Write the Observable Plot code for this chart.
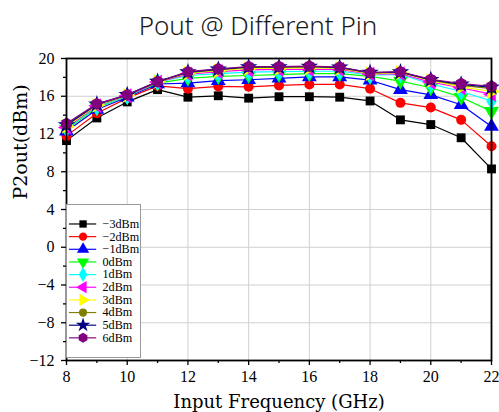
<!DOCTYPE html>
<html>
<head>
<meta charset="utf-8">
<script src="https://cdn.jsdelivr.net/npm/d3@7"></script>
<script src="https://cdn.jsdelivr.net/npm/@observablehq/plot@0.6"></script>
<style>
  body { margin: 0; background: #fff; }
  #wrap { position: relative; width: 499px; height: 412px; overflow: hidden; background: #fff; }
  #title { position: absolute; left: 0; top: 12px; width: 516px; text-align: center;
           font-family: "Noto Sans", sans-serif; font-size: 26px; line-height: 26px; color: #1a1a1a; font-weight: 300; }
  #chart { position: absolute; left: 0; top: 48px; }
  #legend { position: absolute; left: 66px; top: 204px; }
</style>
</head>
<body>
<div id="wrap">
  <div id="title">Pout @ Different Pin</div>
  <div id="chart"></div>
  <div id="legend"></div>
</div>
<script>
const freq = [8, 9, 10, 11, 12, 13, 14, 15, 16, 17, 18, 19, 20, 21, 22];
const seriesNames = ["−3dBm", "−2dBm", "−1dBm", "0dBm", "1dBm", "2dBm", "3dBm", "4dBm", "5dBm", "6dBm"];
const p_m3 = [11.3, 13.7, 15.4, 16.7, 15.9, 16.05, 15.8, 15.95, 15.95, 15.9, 15.5, 13.5, 13.0, 11.6, 8.3];
const p_m2 = [11.8, 14.2, 15.8, 17.1, 16.8, 17.05, 17.0, 17.15, 17.25, 17.25, 16.8, 15.3, 14.8, 13.5, 10.7];
const p_m1 = [12.3, 14.6, 15.9, 17.3, 17.4, 17.65, 17.75, 17.9, 18.05, 18.05, 17.7, 16.7, 16.15, 15.1, 12.8];
const p_0  = [12.5, 14.8, 16.0, 17.4, 17.9, 18.1, 18.2, 18.3, 18.4, 18.4, 18.1, 17.6, 16.9, 15.9, 14.4];
const p_1  = [12.6, 14.9, 16.0, 17.5, 18.2, 18.4, 18.55, 18.6, 18.65, 18.65, 18.25, 18.3, 17.3, 16.5, 15.5];
const p_2  = [12.7, 15.0, 16.05, 17.5, 18.35, 18.6, 18.8, 18.85, 18.85, 18.85, 18.35, 18.4, 17.5, 16.9, 16.2];
const p_3  = [12.8, 15.05, 16.1, 17.55, 18.45, 18.7, 18.95, 18.95, 19.0, 18.95, 18.4, 18.5, 17.65, 17.0, 16.5];
const p_4  = [12.9, 15.1, 16.1, 17.55, 18.5, 18.8, 19.05, 19.05, 19.1, 19.0, 18.45, 18.55, 17.7, 17.15, 16.8];
const p_5  = [12.95, 15.15, 16.15, 17.55, 18.55, 18.85, 19.1, 19.1, 19.15, 19.05, 18.5, 18.55, 17.75, 17.25, 16.95];
const p_6  = [13.1, 15.2, 16.15, 17.55, 18.6, 18.9, 19.15, 19.15, 19.2, 19.1, 18.5, 18.6, 17.8, 17.35, 17.05];
const seriesValues = [p_m3, p_m2, p_m1, p_0, p_1, p_2, p_3, p_4, p_5, p_6];
const colors = ["#000000", "#ff0000", "#0000ff", "#00ff00", "#00ffff", "#ff00ff", "#ffff00", "#808000", "#000080", "#800080"];

const xTicks = [8, 10, 12, 14, 16, 18, 20, 22];
const xMinor = [9, 11, 13, 15, 17, 19, 21];
const yTicks = [-12, -8, -4, 0, 4, 8, 12, 16, 20];
const yMinor = [-10, -6, -2, 2, 6, 10, 14, 18];

// custom hexagon symbol (pointy top)
const hexagon = {
  draw(context, size) {
    const r = Math.sqrt(size / (3 * Math.sqrt(3) / 2));
    for (let i = 0; i < 6; i++) {
      const a = -Math.PI / 2 + i * Math.PI / 3;
      const px = r * Math.cos(a), py = r * Math.sin(a);
      if (i === 0) context.moveTo(px, py); else context.lineTo(px, py);
    }
    context.closePath();
  }
};
const symbols = ["square", "circle", "triangle", "triangle", "diamond", "triangle", "triangle", "circle", "star", hexagon];
const rotations = [0, 0, 0, 180, 0, -90, 90, 0, 0, 0];
const sizes = [5, 5, 5.5, 5.5, 5.5, 5.5, 5.5, 5, 5.5, 5.5];

const rows = [];
seriesNames.forEach((name, i) => {
  seriesValues[i].forEach((v, j) => rows.push({series: name, idx: i, freq: freq[j], p: v}));
});

const dataMarks = [];
seriesNames.forEach((name, i) => {
  const d = rows.filter(r => r.idx === i);
  dataMarks.push(Plot.line(d, {x: "freq", y: "p", stroke: colors[i], strokeWidth: 1.2}));
  dataMarks.push(Plot.dot(d, {x: "freq", y: "p", fill: colors[i], stroke: "none", symbol: symbols[i], rotate: rotations[i], r: sizes[i]}));
});

const chart = Plot.plot({
  width: 499,
  height: 364,
  marginLeft: 66,
  marginRight: 8,
  marginTop: 10,
  marginBottom: 52,
  style: {fontFamily: "Liberation Serif", fontSize: "16px", background: "#fff", color: "#000"},
  x: {domain: [8, 22]},
  y: {domain: [-12, 20]},
  marks: [
    Plot.gridX(xTicks, {stroke: "#d0d0d0", strokeOpacity: 1}),
    Plot.gridY(yTicks, {stroke: "#d0d0d0", strokeOpacity: 1}),
    Plot.axisX(xTicks, {tickSize: 5, tickPadding: 5, fontSize: 16, fontFamily: "Liberation Serif", label: null, stroke: "#000", strokeWidth: 1.3}),
    Plot.axisX(xMinor, {tickSize: 3, tickFormat: () => "", label: null, stroke: "#000", strokeWidth: 1.3}),
    Plot.axisY(yTicks, {tickSize: 5, tickPadding: 7, fontSize: 16, fontFamily: "Liberation Serif", label: null, stroke: "#000", strokeWidth: 1.3}),
    Plot.axisY(yMinor, {tickSize: 3, tickFormat: () => "", label: null, stroke: "#000", strokeWidth: 1.3}),
    ...dataMarks,
    Plot.frame({stroke: "#000", strokeWidth: 1.8}),
    Plot.text(["P2out(dBm)"], {frameAnchor: "left", dx: -46, dy: -10, rotate: -90, fontSize: 19, fontFamily: "DejaVu Serif", fill: "#000", letterSpacing: "2.5px"}),
    Plot.text(["Input Frequency (GHz)"], {frameAnchor: "bottom", dy: 42, lineAnchor: "middle", fontSize: 18, fontFamily: "DejaVu Serif", fill: "#000"})
  ]
});
document.getElementById("chart").appendChild(chart);

// Legend
const legend = Plot.plot({
  width: 75,
  height: 156,
  margin: 0,
  style: {fontFamily: "Liberation Serif", fontSize: "12px", background: "#fff", border: "1px solid #999", boxSizing: "border-box"},
  x: {domain: [0, 1], range: [2, 30], axis: null},
  y: {type: "point", domain: seriesNames, range: [9, 145], axis: null},
  marks: [
    Plot.ruleY(seriesNames, {y: d => d, x1: 0, x2: 1, stroke: (d, i) => colors[i], strokeWidth: 1.2}),
    ...seriesNames.map((name, i) => Plot.dot([name], {x: 0.5, y: d => d, fill: colors[i], stroke: "none", symbol: symbols[i], rotate: rotations[i], r: sizes[i] * 0.85})),
    Plot.text(seriesNames, {x: 1, y: d => d, dx: 6, textAnchor: "start", fill: "#000", fontSize: 12.5})
  ]
});
document.getElementById("legend").appendChild(legend);
</script>
</body>
</html>
